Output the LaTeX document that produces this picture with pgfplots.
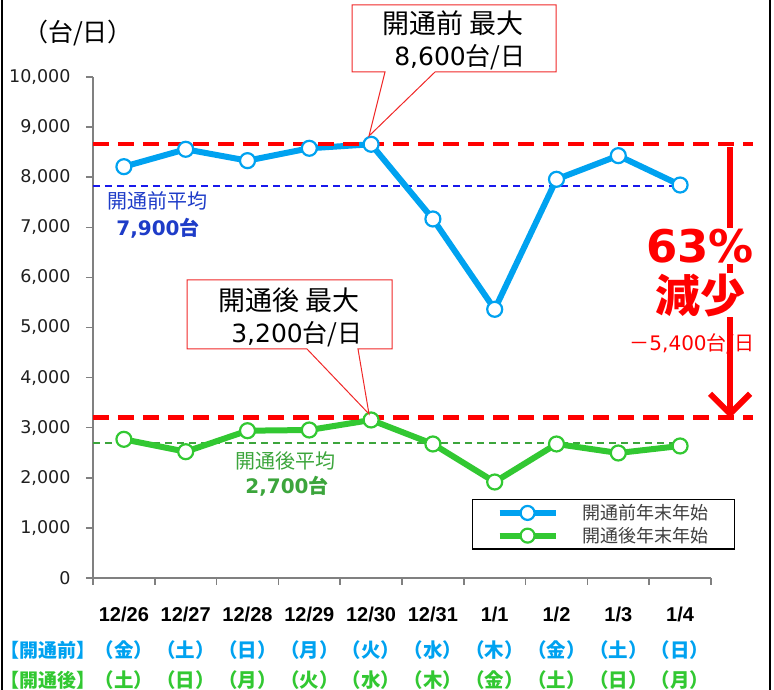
\documentclass[border=0pt]{standalone}
\usepackage{pgfplots}
\usepackage{pgfplotstable}
\pgfplotsset{compat=1.18}
\usepackage{fontspec}
\setmainfont{DejaVu Sans}
\newfontfamily\cjk{Noto Sans CJK JP}
\newfontfamily\lib{Liberation Sans}
\usetikzlibrary{arrows.meta}
\definecolor{preblue}{RGB}{0,162,240}
\definecolor{postgreen}{RGB}{50,200,50}
\definecolor{avgblue}{RGB}{25,25,235}
\definecolor{avgbluetext}{RGB}{30,60,200}
\definecolor{avggreen}{RGB}{60,165,60}
\definecolor{myred}{RGB}{255,0,0}
\definecolor{calloutred}{RGB}{240,40,40}

\pgfplotstableread{
x pre post
0 8210 2768
1 8557 2521
2 8330 2940
3 8577 2954
4 8657 3154
5 7166 2675
6 5363 1916
7 7958 2675
8 8430 2495
9 7844 2635
}\datatable

\newcommand\xl[3]{{\lib\bfseries\fontsize{20}{30}\selectfont #1}\\[6pt]{\color{preblue}\cjk\bfseries\fontsize{19.5}{30}\selectfont #2}\\{\color{postgreen}\cjk\bfseries\fontsize{19.5}{30}\selectfont #3}}

\begin{document}
\begin{tikzpicture}
\useasboundingbox (0,0) rectangle (774pt,690pt);
\begin{axis}[
  at={(93pt,112pt)}, anchor=south west,
  width=618pt, height=501pt, scale only axis,
  xmin=-0.5, xmax=9.5, ymin=0, ymax=10000,
  axis x line*=bottom, axis y line*=left,
  axis line style={draw=black!50, line width=2pt},
  clip=false,
  xtick={-0.5,0.5,...,9.5}, xticklabels={},
  ytick={0,1000,...,10000},
  scaled y ticks=false,
  tick align=outside, major tick length=7pt,
  tick style={draw=black!50, line width=1.5pt},
  yticklabel style={font=\fontsize{17.5}{17.5}\selectfont, text=black!88, xshift=-12pt},
  /pgf/number format/assume math mode=true,
  /pgf/number format/1000 sep={,},
  extra x ticks={0,1,2,3,4,5,6,7,8,9},
  extra x tick style={major tick length=0pt, xticklabel style={align=center, anchor=north, yshift=-25pt, font=\fontsize{18}{30}\selectfont}},
  extra x tick labels={
    {\xl{12/26}{（金）}{（土）}},
    {\xl{12/27}{（土）}{（日）}},
    {\xl{12/28}{（日）}{（月）}},
    {\xl{12/29}{（月）}{（火）}},
    {\xl{12/30}{（火）}{（水）}},
    {\xl{12/31}{（水）}{（木）}},
    {\xl{1/1}{（木）}{（金）}},
    {\xl{1/2}{（金）}{（土）}},
    {\xl{1/3}{（土）}{（日）}},
    {\xl{1/4}{（日）}{（月）}}},
  legend style={at={(rel axis cs:0.613,0.158)}, anchor=north west,
    draw=black, line width=1.5pt, fill=white,
    font=\cjk\fontsize{18}{18}\selectfont, text=black!75,
    inner xsep=24pt, inner ysep=3pt, row sep=2pt,
    /tikz/every odd column/.style={column sep=22pt}},
  legend cell align=left,
  legend image code/.code={\draw[mark repeat=2,mark phase=2] plot coordinates {(0pt,0pt) (28pt,0pt) (56pt,0pt)};},
]
\addplot[avgblue, line width=2pt, dash pattern=on 7pt off 5pt, forget plot] coordinates {(-0.5,7830) (9.16,7830)};
\addplot[avggreen, line width=1.6pt, dash pattern=on 7pt off 5pt, forget plot] coordinates {(-0.5,2700) (9.16,2700)};
\addplot[preblue, line width=6pt, line join=round, no marks, forget plot] table[x=x,y=pre] {\datatable};
\addplot[postgreen, line width=6pt, line join=round, no marks, forget plot] table[x=x,y=post] {\datatable};
\addplot[myred, line width=4.5pt, dash pattern=on 16pt off 9pt, forget plot] coordinates {(-0.5,8660) (10.18,8660)};
\addplot[myred, line width=4.5pt, dash pattern=on 16pt off 9pt, forget plot] coordinates {(-0.5,3200) (10.18,3200)};
\addplot[only marks, mark=*, mark size=7.5pt, mark options={fill=white, draw=preblue, line width=2.2pt}, forget plot] table[x=x,y=pre] {\datatable};
\addplot[only marks, mark=*, mark size=7.5pt, mark options={fill=white, draw=postgreen, line width=2.2pt}, forget plot] table[x=x,y=post] {\datatable};
\addlegendimage{preblue, line width=6pt, mark=*, mark size=7pt, mark options={fill=white, line width=2.2pt}}
\addlegendentry{開通前年末年始}
\addlegendimage{postgreen, line width=6pt, mark=*, mark size=7pt, mark options={fill=white, line width=2.2pt}}
\addlegendentry{開通後年末年始}
\end{axis}

\begin{scope}[x=1pt, y=-1pt, shift={(0pt,690pt)}]
% frame
\draw[black, line width=2.5pt] (2,0) -- (2,690);
\draw[black, line width=2.5pt] (770,0) -- (770,690);
% unit
\node[font=\cjk\fontsize{25}{25}\selectfont] at (78,33) {（台/日）};
% callout 1
\draw[calloutred, line width=1pt, fill=white] (352,5) -- (556,5) -- (556,72) -- (435,72) -- (369,136) -- (385,72) -- (352,72) -- cycle;
\node[font=\cjk\fontsize{27}{27}\selectfont] at (453,23) {開通前 最大};
\node[font=\fontsize{25}{25}\selectfont] at (460,57) {8,600{\cjk 台/日}};
% callout 2
\draw[calloutred, line width=1pt, fill=white] (187,280) -- (392,280) -- (392,349) -- (358,349) -- (369,414) -- (307,349) -- (187,349) -- cycle;
\node[font=\cjk\fontsize{27}{27}\selectfont] at (289,300) {開通後 最大};
\node[font=\fontsize{25}{25}\selectfont] at (297,334) {3,200{\cjk 台/日}};
% averages
\node[font=\cjk\fontsize{20}{20}\selectfont, text=avgbluetext] at (157,201) {開通前平均};
\node[font=\bfseries\fontsize{20}{20}\selectfont, text=avgbluetext] at (158,228) {7,900{\cjk\bfseries 台}};
\node[font=\cjk\fontsize{20}{20}\selectfont, text=avggreen] at (285,461) {開通後平均};
\node[font=\bfseries\fontsize{20}{20}\selectfont, text=avggreen] at (287,486) {2,700{\cjk\bfseries 台}};
% arrow and reduction
\draw[myred, line width=6pt, -{Straight Barb[length=20pt,width=40pt]}] (730,147) -- (730,418);
\node[font=\bfseries\fontsize{45}{45}\selectfont, text=myred, fill=white, inner sep=1pt] at (700,246) {63\%};
\node[font=\cjk\bfseries\fontsize{45}{45}\selectfont, text=myred, fill=white, inner sep=0pt] at (700,295) {減少};
\node[font=\fontsize{20}{20}\selectfont, text=myred] at (692,344) {{\cjk －}5,400{\cjk 台/日}};
% row prefixes
\node[font=\cjk\bfseries\fontsize{19}{19}\selectfont, text=preblue, inner sep=0pt] at (48,650) {【開通前】};
\node[font=\cjk\bfseries\fontsize{19}{19}\selectfont, text=postgreen, inner sep=0pt] at (48,680) {【開通後】};
\end{scope}
\end{tikzpicture}
\end{document}
